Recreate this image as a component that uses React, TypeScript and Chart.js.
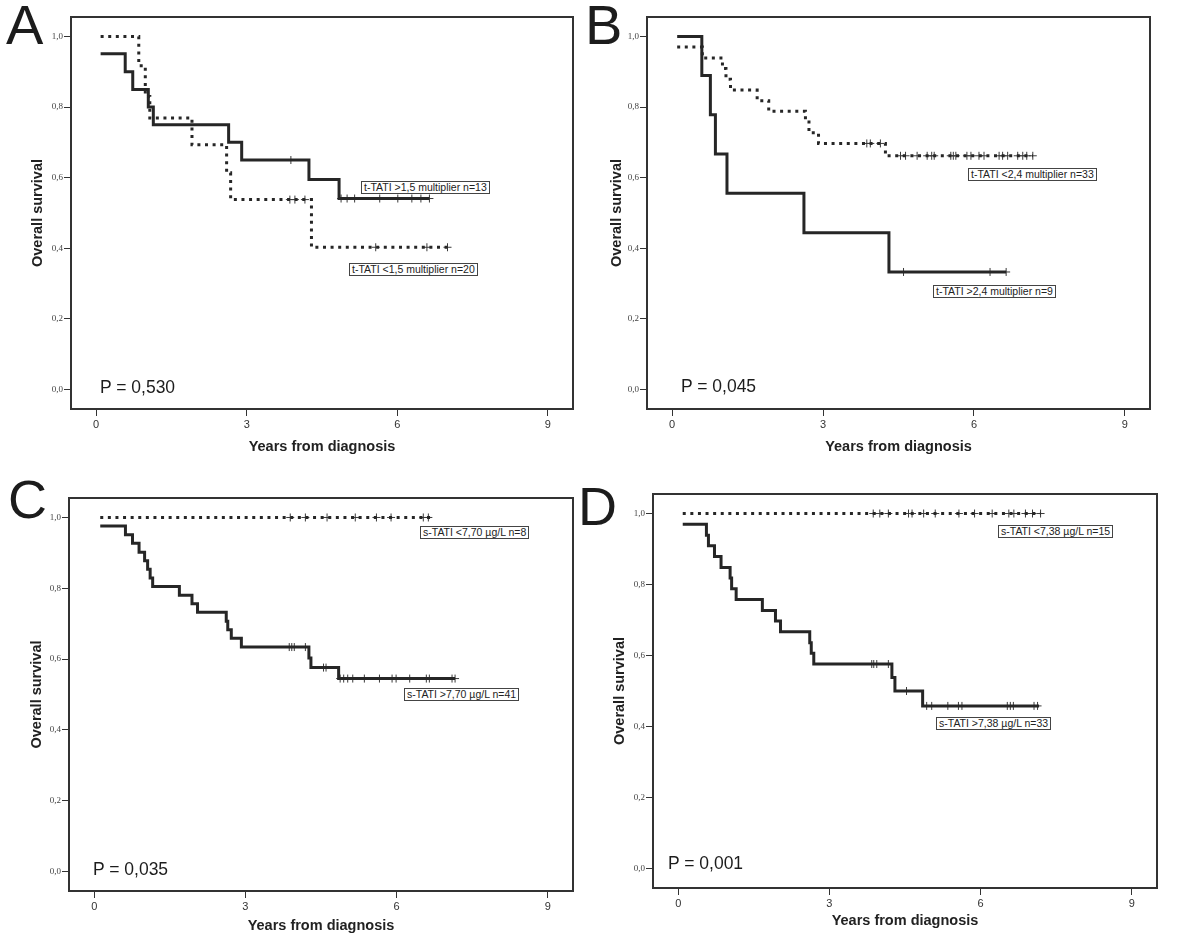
import React, { useEffect, useRef } from "react";
import { Chart, registerables } from "chart.js";

Chart.register(...registerables);

// ---------- shared axis values ----------
const X_TICKS = [0, 3, 6, 9];
const Y_TICKS = [0, 0.2, 0.4, 0.6, 0.8, 1.0];
const X_TITLE = "Years from diagnosis";
const Y_TITLE = "Overall survival";

// ---------- Panel A ----------
const A_HIGH_T = [0.09, 0.58, 0.73, 1.04, 1.14, 2.64, 2.9, 4.24, 4.84, 6.64];
const A_HIGH_S = [0.951, 0.9, 0.85, 0.8, 0.75, 0.7, 0.65, 0.595, 0.541, 0.541];
const A_HIGH_CENS = [3.88, 4.88, 5.0, 5.15, 5.65, 6.01, 6.29, 6.47, 6.64];
const A_LOW_T = [0.09, 0.85, 0.98, 1.07, 1.91, 2.6, 2.68, 4.29, 7.0];
const A_LOW_S = [1.0, 0.917, 0.83, 0.769, 0.693, 0.614, 0.538, 0.403, 0.403];
const A_LOW_CENS = [3.86, 3.96, 4.16, 5.57, 6.59, 7.0];
const A_LABELS = ["t-TATI >1,5 multiplier n=13", "t-TATI <1,5 multiplier n=20"];
const A_P = "P = 0,530";

// ---------- Panel B ----------
const B_HIGH_T = [0.1, 0.59, 0.76, 0.86, 1.09, 2.62, 4.31, 6.64];
const B_HIGH_S = [1.0, 0.889, 0.778, 0.667, 0.556, 0.444, 0.333, 0.333];
const B_HIGH_CENS = [4.6, 6.32, 6.64];
const B_LOW_T = [0.1, 0.6, 1.0, 1.07, 1.16, 1.69, 1.92, 2.65, 2.72, 2.91, 4.24, 7.17];
const B_LOW_S = [0.97, 0.939, 0.909, 0.879, 0.848, 0.818, 0.788, 0.758, 0.727, 0.697, 0.662, 0.662];
const B_LOW_CENS = [3.87, 3.94, 4.14, 4.54, 4.64, 4.87, 5.07, 5.16, 5.21, 5.54, 5.59, 5.64, 5.86, 5.94, 6.1, 6.2, 6.5, 6.57, 6.67, 6.87, 6.97, 7.05, 7.17];
const B_LABELS = ["t-TATI <2,4 multiplier n=33", "t-TATI >2,4 multiplier n=9"];
const B_P = "P = 0,045";

// ---------- Panel C ----------
const C_HIGH_T = [0.12, 0.62, 0.76, 0.89, 1.0, 1.06, 1.11, 1.16, 1.69, 1.94, 2.05, 2.62, 2.65, 2.72, 2.92, 4.26, 4.3, 4.85, 7.16];
const C_HIGH_S = [0.976, 0.951, 0.927, 0.902, 0.878, 0.854, 0.829, 0.805, 0.78, 0.756, 0.732, 0.707, 0.683, 0.659, 0.634, 0.603, 0.576, 0.545, 0.545];
const C_HIGH_CENS = [3.87, 3.92, 3.97, 4.19, 4.55, 4.6, 4.88, 4.95, 5.03, 5.13, 5.36, 5.66, 5.91, 5.99, 6.26, 6.59, 6.65, 7.1, 7.16];
const C_LOW_T = [0.12, 6.68];
const C_LOW_S = [1.0, 1.0];
const C_LOW_CENS = [3.89, 4.19, 4.62, 5.18, 5.6, 5.89, 6.53, 6.63];
const C_LABELS = ["s-TATI <7,70 \u00b5g/L n=8", "s-TATI >7,70 \u00b5g/L n=41"];
const C_P = "P = 0,035";

// ---------- Panel D ----------
const D_HIGH_T = [0.09, 0.56, 0.6, 0.72, 0.85, 1.03, 1.06, 1.15, 1.67, 1.93, 2.03, 2.61, 2.64, 2.69, 4.24, 4.3, 4.85, 7.16];
const D_HIGH_S = [0.97, 0.939, 0.909, 0.879, 0.848, 0.818, 0.788, 0.758, 0.727, 0.697, 0.667, 0.636, 0.606, 0.576, 0.538, 0.5, 0.458, 0.458];
const D_HIGH_CENS = [3.84, 3.88, 3.94, 4.17, 4.53, 4.93, 5.03, 5.35, 5.56, 5.63, 6.53, 6.59, 6.65, 7.06, 7.13];
const D_LOW_T = [0.09, 7.19];
const D_LOW_S = [1.0, 1.0];
const D_LOW_CENS = [3.87, 4.0, 4.17, 4.57, 4.64, 4.87, 5.1, 5.57, 5.88, 6.23, 6.56, 6.66, 6.89, 7.03, 7.19];
const D_LABELS = ["s-TATI <7,38 \u00b5g/L n=15", "s-TATI >7,38 \u00b5g/L n=33"];
const D_P = "P = 0,001";

// ---------- helpers ----------
type Curve = { t: number[]; s: number[]; cens: number[]; dotted: boolean };

const survAt = (t: number[], s: number[], tc: number) => {
  let v = s[0];
  for (let i = 0; i < t.length; i++) if (t[i] <= tc + 1e-9) v = s[i];
  return v;
};

const SANS = "'Liberation Sans', Arial, sans-serif";
const SERIF = "'Liberation Serif', 'Times New Roman', serif";

const framePlugin = {
  id: "frame",
  afterDatasetsDraw(chart: any) {
    const { ctx, chartArea: a } = chart;
    ctx.save();
    ctx.strokeStyle = "#333";
    ctx.lineWidth = 2;
    ctx.strokeRect(a.left, a.top, a.right - a.left, a.bottom - a.top);
    ctx.restore();
  },
};

type PanelProps = {
  left: number;
  top: number;
  w: number;
  h: number;
  area: { left: number; top: number; right: number; bottom: number };
  yTitleX: number;
  xTitleY: number;
  curves: Curve[];
};

function Panel({ left, top, w, h, area, yTitleX, xTitleY, curves }: PanelProps) {
  const ref = useRef<HTMLCanvasElement | null>(null);
  useEffect(() => {
    if (!ref.current) return;
    const titleFont = { family: SANS, size: 14.5, weight: "bold" as const, lineHeight: 1.2 };
    const half = (14.5 * 1.2) / 2;
    const datasets: any[] = [];
    curves.forEach((c) => {
      datasets.push({
        data: c.t.map((x, i) => ({ x, y: c.s[i] })),
        showLine: true,
        stepped: true,
        borderColor: "#262626",
        borderWidth: 3,
        borderDash: c.dotted ? [3, 4.6] : [],
        borderCapStyle: "butt",
        pointRadius: 0,
        fill: false,
      });
    });
    curves.forEach((c) => {
      datasets.push({
        data: c.cens.map((x) => ({ x, y: survAt(c.t, c.s, x) })),
        showLine: false,
        pointStyle: "cross",
        pointRadius: 4,
        pointBorderWidth: 1,
        pointBorderColor: "#3a3a3a",
        borderColor: "#3a3a3a",
      });
    });
    const chart = new Chart(ref.current, {
      type: "scatter",
      data: { datasets },
      options: {
        animation: false,
        responsive: false,
        devicePixelRatio: 1,
        events: [],
        layout: { padding: { left: 0, top: area.top, right: w - area.right, bottom: 0 } },
        plugins: { legend: { display: false }, tooltip: { enabled: false } },
        scales: {
          x: {
            type: "linear",
            position: "bottom",
            min: -0.5,
            max: 9.5,
            afterBuildTicks: (s: any) => {
              s.ticks = X_TICKS.map((v) => ({ value: v }));
            },
            afterFit: (s: any) => {
              s.height = h - area.bottom;
            },
            grid: { display: true, drawOnChartArea: false, drawTicks: true, tickLength: 7, color: "#333", lineWidth: 1 },
            border: { display: false },
            ticks: { font: { family: SANS, size: 11 }, color: "#333", padding: 2, autoSkip: false, maxRotation: 0, callback: (v: any) => String(v) },
            title: { display: true, text: X_TITLE, font: titleFont, color: "#222", padding: { top: 0, bottom: h - xTitleY - half } },
          },
          y: {
            type: "linear",
            position: "left",
            min: -0.055,
            max: 1.055,
            afterBuildTicks: (s: any) => {
              s.ticks = Y_TICKS.map((v) => ({ value: v }));
            },
            afterFit: (s: any) => {
              s.width = area.left;
            },
            grid: { display: true, drawOnChartArea: false, drawTicks: true, tickLength: 7, color: "#333", lineWidth: 1 },
            border: { display: false },
            ticks: { font: { family: SERIF, size: 9 }, color: "#444", padding: 1, callback: (v: any) => Number(v).toFixed(1).replace(".", ",") },
            title: { display: true, text: Y_TITLE, font: titleFont, color: "#222", padding: { top: yTitleX - half, bottom: 0 } },
          },
        },
      } as any,
      plugins: [framePlugin],
    });
    return () => chart.destroy();
  }, []);
  return (
    <canvas
      ref={ref}
      width={w}
      height={h}
      style={{ position: "absolute", left, top, width: w, height: h }}
    />
  );
}

// place text by baseline (Liberation Sans metrics)
const Txt = ({ x, base, size, text, weight }: { x: number; base: number; size: number; text: string; weight?: number }) => (
  <div
    style={{
      position: "absolute",
      left: x,
      top: base - 0.8465 * size,
      fontFamily: SANS,
      fontSize: size,
      lineHeight: `${size}px`,
      fontWeight: weight || 400,
      color: "#1c1c1c",
      whiteSpace: "nowrap",
    }}
  >
    {text}
  </div>
);

const Box = ({ x, y, text }: { x: number; y: number; text: string }) => (
  <div
    style={{
      position: "absolute",
      left: x,
      top: y,
      fontFamily: SANS,
      fontSize: 10.5,
      lineHeight: "11px",
      padding: "0 2px",
      border: "1px solid #444",
      background: "#fff",
      color: "#222",
      whiteSpace: "nowrap",
    }}
  >
    {text}
  </div>
);

export default function App() {
  return (
    <div style={{ position: "absolute", left: 0, top: 0, width: 1200, height: 941, background: "#fff", overflow: "hidden" }}>
      <Panel
        left={0}
        top={0}
        w={600}
        h={470}
        area={{ left: 71, top: 17, right: 573, bottom: 409 }}
        yTitleX={37.5}
        xTitleY={447}
        curves={[
          { t: A_LOW_T, s: A_LOW_S, cens: A_LOW_CENS, dotted: true },
          { t: A_HIGH_T, s: A_HIGH_S, cens: A_HIGH_CENS, dotted: false },
        ]}
      />
      <Panel
        left={600}
        top={0}
        w={600}
        h={470}
        area={{ left: 47, top: 17, right: 550, bottom: 409 }}
        yTitleX={17}
        xTitleY={447}
        curves={[
          { t: B_LOW_T, s: B_LOW_S, cens: B_LOW_CENS, dotted: true },
          { t: B_HIGH_T, s: B_HIGH_S, cens: B_HIGH_CENS, dotted: false },
        ]}
      />
      <Panel
        left={0}
        top={470}
        w={600}
        h={471}
        area={{ left: 69, top: 28, right: 573, bottom: 421 }}
        yTitleX={37}
        xTitleY={456}
        curves={[
          { t: C_LOW_T, s: C_LOW_S, cens: C_LOW_CENS, dotted: true },
          { t: C_HIGH_T, s: C_HIGH_S, cens: C_HIGH_CENS, dotted: false },
        ]}
      />
      <Panel
        left={600}
        top={470}
        w={600}
        h={471}
        area={{ left: 53, top: 24, right: 557, bottom: 418 }}
        yTitleX={20}
        xTitleY={451}
        curves={[
          { t: D_LOW_T, s: D_LOW_S, cens: D_LOW_CENS, dotted: true },
          { t: D_HIGH_T, s: D_HIGH_S, cens: D_HIGH_CENS, dotted: false },
        ]}
      />

      {/* panel letters */}
      <Txt x={6} base={44} size={56} text="A" />
      <Txt x={585} base={44} size={56} text="B" />
      <Txt x={8} base={518} size={54} text="C" />
      <Txt x={578} base={525} size={54} text="D" />

      {/* p-values */}
      <Txt x={100} base={394} size={17.5} text={A_P} />
      <Txt x={681} base={393} size={17.5} text={B_P} />
      <Txt x={93} base={876} size={17.5} text={C_P} />
      <Txt x={668} base={870} size={17.5} text={D_P} />

      {/* curve labels */}
      <Box x={361} y={181} text={A_LABELS[0]} />
      <Box x={349} y={263} text={A_LABELS[1]} />
      <Box x={968} y={168} text={B_LABELS[0]} />
      <Box x={933} y={285} text={B_LABELS[1]} />
      <Box x={420} y={526} text={C_LABELS[0]} />
      <Box x={404} y={688} text={C_LABELS[1]} />
      <Box x={998} y={525} text={D_LABELS[0]} />
      <Box x={936} y={717} text={D_LABELS[1]} />
    </div>
  );
}
